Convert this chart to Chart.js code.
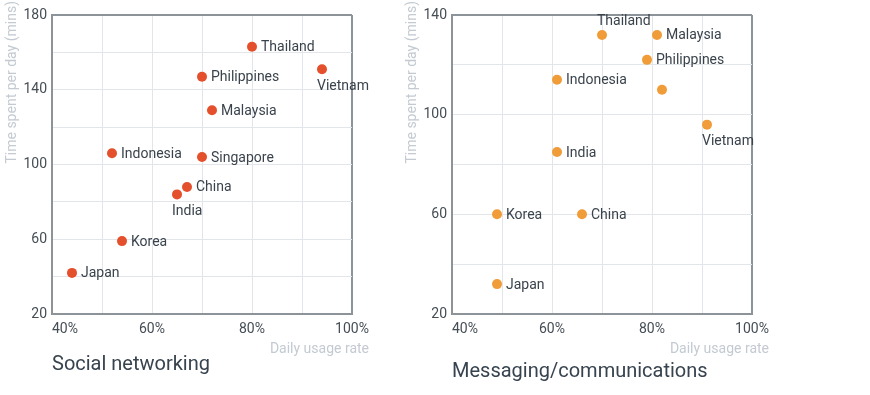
<!DOCTYPE html>
<html>
<head>
<meta charset="utf-8">
<script src="https://cdn.jsdelivr.net/npm/chart.js@4.4.1/dist/chart.umd.min.js"></script>
<style>
  html, body { margin: 0; padding: 0; background: #ffffff; }
  #wrap { position: relative; width: 870px; height: 395px; overflow: hidden; }
  canvas { position: absolute; top: 0; }
  #c1 { left: 0; }
  #c2 { left: 400px; }
</style>
</head>
<body>
<div id="wrap">
  <canvas id="c1" width="400" height="395"></canvas>
  <canvas id="c2" width="470" height="395"></canvas>
</div>
<script>
// ---------- DATA ----------
const countries = ['Thailand', 'Philippines', 'Vietnam', 'Malaysia', 'Indonesia', 'Singapore', 'China', 'India', 'Korea', 'Japan'];

// Social networking: daily usage rate (%) and time spent per day (mins)
const socialUsage = [80, 70, 94, 72, 52, 70, 67, 65, 54, 44];
const socialTime  = [163, 147, 151, 129, 106, 104, 88, 84, 59, 42];

// Messaging/communications
const msgUsage = [70, 79, 91, 81, 61, 82, 66, 61, 49, 49];
const msgTime  = [132, 122, 96, 132, 114, 110, 60, 85, 60, 32];

// Tick labels
const usageTickLabels  = [40, 60, 80, 100];
const socialTimeLabels = [20, 60, 100, 140, 180];
const msgTimeLabels    = [20, 60, 100, 140];

const chartTitles = ['Social networking', 'Messaging/communications'];
const xTitle = 'Daily usage rate';
const yTitle = 'Time spent per day (mins)';

// ---------- STYLE ----------
Chart.defaults.font.family = 'Roboto, "Noto Sans", sans-serif';
const GRID = '#e2e6ea';
const FRAME = '#8d9499';
const TICK = '#454d55';
const LABEL = '#3a434c';
const LIGHT = '#c3cad1';
const TITLE = '#37434e';

function makeChart(canvasId, xs, ys, yMin, yMax, yLabels, color, placement, title, titleBaseline, padRight) {
  const points = xs.map((x, i) => ({ x: x, y: ys[i] }));

  const texts = {
    id: 'texts',
    beforeDraw(chart) {
      // left-align the first x tick label (as in the reference)
      const s = chart.scales.x;
      const items = s.getLabelItems();
      const first = items.find(it => it.label !== null && it.label !== undefined && it.label !== '');
      if (first) first.options.textAlign = 'left';
    },
    afterDatasetsDraw(chart) {
      const ctx = chart.ctx;
      const meta = chart.getDatasetMeta(0);
      ctx.save();
      ctx.font = '14px Roboto';
      ctx.fillStyle = LABEL;
      ctx.textBaseline = 'middle';
      meta.data.forEach((pt, i) => {
        const name = countries[i];
        const pos = placement[name] || 'right';
        if (pos === 'none') return;
        ctx.textAlign = 'left';
        if (pos === 'right') ctx.fillText(name, pt.x + 9, pt.y + 1);
        else if (pos === 'below') ctx.fillText(name, pt.x - 5, pt.y + 17);
        else if (pos === 'above') ctx.fillText(name, pt.x - 5, pt.y - 13);
      });
      ctx.restore();
    },
    afterDraw(chart) {
      const ctx = chart.ctx;
      const a = chart.chartArea;
      ctx.save();
      // y-axis title
      ctx.font = '14px Roboto';
      ctx.fillStyle = LIGHT;
      ctx.translate(12, 1);
      ctx.rotate(-Math.PI / 2);
      ctx.textAlign = 'right';
      ctx.textBaseline = 'middle';
      ctx.fillText(yTitle, 0, 0);
      ctx.restore();

      ctx.save();
      ctx.font = '14px Roboto';
      ctx.fillStyle = LIGHT;
      ctx.textAlign = 'right';
      ctx.textBaseline = 'middle';
      ctx.fillText(xTitle, a.right + 17, 349);
      // chart title
      ctx.font = '20px Roboto';
      ctx.fillStyle = TITLE;
      ctx.textAlign = 'left';
      ctx.textBaseline = 'alphabetic';
      ctx.fillText(title, a.left, titleBaseline);
      ctx.restore();
    }
  };

  const edgeColor = (min, max) => (c) => (c.tick && (c.tick.value === min || c.tick.value === max)) ? FRAME : GRID;
  const edgeWidth = (min, max) => (c) => (c.tick && (c.tick.value === min || c.tick.value === max)) ? 2 : 1;

  return new Chart(document.getElementById(canvasId), {
    type: 'scatter',
    data: {
      datasets: [{
        data: points,
        backgroundColor: color,
        borderWidth: 0,
        pointRadius: 5,
        pointHoverRadius: 5
      }]
    },
    options: {
      responsive: false,
      devicePixelRatio: 1,
      animation: false,
      events: [],
      layout: { padding: { left: 0, top: 15, right: padRight, bottom: 0 } },
      plugins: { legend: { display: false }, tooltip: { enabled: false }, title: { display: false } },
      scales: {
        x: {
          type: 'linear',
          min: 40, max: 100,
          border: { display: true, color: FRAME, width: 2 },
          grid: { color: edgeColor(40, 100), lineWidth: edgeWidth(40, 100), drawTicks: false },
          ticks: {
            stepSize: 10, autoSkip: false, maxRotation: 0, padding: 7,
            color: TICK, font: { size: 14 },
            callback: (v) => usageTickLabels.includes(v) ? v + '%' : ''
          },
          afterFit: (s) => { s.height = 81; }
        },
        y: {
          type: 'linear',
          min: yMin, max: yMax,
          border: { display: true, color: FRAME, width: 2 },
          grid: { color: edgeColor(yMin, yMax), lineWidth: edgeWidth(yMin, yMax), drawTicks: false },
          ticks: {
            stepSize: 20, autoSkip: false, padding: 5,
            color: TICK, font: { size: 14 },
            callback: (v) => yLabels.includes(v) ? String(v) : ''
          },
          afterFit: (s) => { s.width = 52; }
        }
      }
    },
    plugins: [texts]
  });
}

makeChart('c1', socialUsage, socialTime, 20, 180, socialTimeLabels, '#e4502c',
  { Vietnam: 'below', India: 'below' }, chartTitles[0], 370, 48);

makeChart('c2', msgUsage, msgTime, 20, 140, msgTimeLabels, '#f09c38',
  { Thailand: 'above', Vietnam: 'below', Singapore: 'none' }, chartTitles[1], 377, 118);
</script>
</body>
</html>
